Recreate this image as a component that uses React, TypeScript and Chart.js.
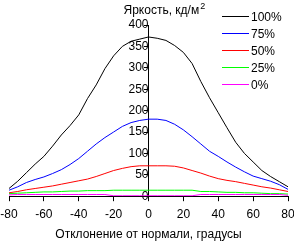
import React, { useEffect, useRef } from "react";
import { Chart, registerables } from "chart.js";

Chart.register(...registerables);

const angles = [-80, -75, -70, -65, -60, -55, -50, -45, -40, -35, -30, -25, -20, -15, -10, -5, 0, 5, 10, 15, 20, 25, 30, 35, 40, 45, 50, 55, 60, 65, 70, 75, 80];

const s100 = [18, 35, 55, 75, 93, 117, 143, 165, 190, 228, 260, 298, 328, 350, 362, 367, 372, 369, 364, 352, 336, 310, 268, 230, 195, 160, 126, 100, 80, 60, 46, 34, 22];
const s75 = [14, 22, 32, 39, 45, 53, 62, 74, 88, 105, 122, 137, 150, 163, 172, 177, 180, 180, 177, 168, 155, 139, 122, 105, 93, 80, 68, 57, 47, 41, 35, 27, 16];
const s50 = [8, 11, 15, 18, 21, 24, 28, 32, 36, 40, 46, 53, 60, 65, 69, 71, 71, 71, 71, 70, 66, 60, 54, 47, 41, 37, 34, 30, 26, 22, 19, 15, 11];
const s25 = [6, 7, 8, 9, 10, 10, 11, 12, 12, 13, 13, 13, 14, 14, 14, 14, 14, 14, 14, 14, 14, 14, 11, 11, 10, 9, 9, 8, 8, 7, 6, 6, 5];
const s0 = [3, 4, 4, 4, 4, 4, 4, 4, 4, 4, 4, 4, 1, 1, 1, 1, 1, 1, 1, 1, 1, 1, 4, 4, 4, 4, 4, 4, 4, 4, 4, 4, 2];

const seriesNames = ["100%", "75%", "50%", "25%", "0%"];
const seriesColors = ["#000000", "#0000ff", "#ff0000", "#00ff00", "#ff00ff"];
const seriesData = [s100, s75, s50, s25, s0];

const xTicks = [-80, -60, -40, -20, 0, 20, 40, 60, 80];
const yTicks = [0, 50, 100, 150, 200, 250, 300, 350, 400];

const yTitle = "Яркость, кд/м";
const yTitleSup = "2";
const xTitle = "Отклонение от нормали, градусы";

const FONT = "'Liberation Sans', Arial, sans-serif";

export default function App() {
  const ref = useRef<HTMLCanvasElement | null>(null);

  useEffect(() => {
    if (!ref.current) return;
    const overlay = {
      id: "overlay",
      afterDraw(chart: any) {
        const ctx = chart.ctx;
        const y0 = chart.scales.x.getPixelForValue(0);
        ctx.save();
        ctx.fillStyle = "#000";
        ctx.textBaseline = "alphabetic";
        ctx.textAlign = "left";
        ctx.font = `12px ${FONT}`;
        const tx = y0 - 25;
        ctx.fillText(yTitle, tx, 14);
        const w = ctx.measureText(yTitle).width;
        ctx.font = `9px ${FONT}`;
        ctx.fillText(yTitleSup, tx + w + 1, 9);
        // legend
        ctx.font = `12px ${FONT}`;
        ctx.textBaseline = "middle";
        seriesNames.forEach((name, i) => {
          const yy = 16.5 + i * 17;
          ctx.strokeStyle = seriesColors[i];
          ctx.lineWidth = 1;
          ctx.beginPath();
          ctx.moveTo(222, yy);
          ctx.lineTo(249, yy);
          ctx.stroke();
          ctx.fillStyle = "#000";
          ctx.fillText(name, 251, yy + 1);
        });
        ctx.restore();
      },
    };

    const chart = new Chart(ref.current, {
      type: "line",
      data: {
        labels: angles,
        datasets: seriesData
          .map((d, i) => ({
            label: seriesNames[i],
            data: d.map((v, j) => ({ x: angles[j], y: v })),
            borderColor: seriesColors[i],
            backgroundColor: seriesColors[i],
            borderWidth: 1,
            pointRadius: 0,
            tension: 0,
            fill: false,
          }))
          .reverse(),
      },
      options: {
        animation: false,
        responsive: false,
        events: [],
        layout: { padding: { left: 0, right: 0, top: 25, bottom: 0 } },
        plugins: {
          legend: { display: false },
          tooltip: { enabled: false },
          title: { display: false },
        },
        scales: {
          x: {
            type: "linear",
            min: -80,
            max: 80,
            afterBuildTicks: (axis: any) => {
              axis.ticks = xTicks.map((v) => ({ value: v }));
            },
            afterFit: (axis: any) => {
              axis.paddingLeft = 9;
              axis.paddingRight = 6;
            },
            grid: {
              drawOnChartArea: false,
              drawTicks: true,
              tickLength: 5,
              color: "#000",
            },
            border: { display: true, color: "#000", width: 1 },
            ticks: {
              color: "#000",
              font: { family: FONT, size: 12 },
              padding: 6,
              maxRotation: 0,
              autoSkip: false,
            },
            title: {
              display: true,
              text: xTitle,
              color: "#000",
              font: { family: FONT, size: 12 },
              padding: { top: 0, bottom: 0 },
            },
          },
          y: {
            type: "linear",
            min: 0,
            max: 400,
            position: { x: 0 } as any,
            afterBuildTicks: (axis: any) => {
              axis.ticks = yTicks.map((v) => ({ value: v }));
            },
            grid: {
              drawOnChartArea: false,
              drawTicks: true,
              tickLength: 4,
              color: "#000",
            },
            border: { display: true, color: "#000", width: 1 },
            ticks: {
              color: "#000",
              font: { family: FONT, size: 12 },
              padding: 2,
              autoSkip: false,
            },
          },
        },
      },
      plugins: [overlay],
    });
    return () => chart.destroy();
  }, []);

  return (
    <div style={{ position: "fixed", left: 0, top: 0, width: 294, height: 242, background: "#fff" }}>
      <canvas ref={ref} width={294} height={242} style={{ display: "block" }} />
    </div>
  );
}
